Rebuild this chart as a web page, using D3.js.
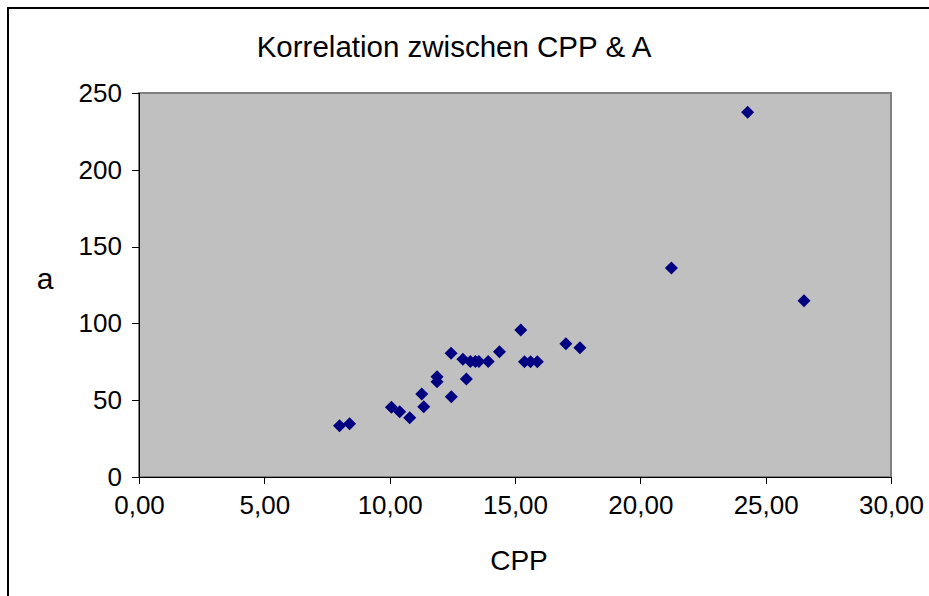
<html>
<head>
<script src="https://d3js.org/d3.v7.min.js"></script>
<style>
body { margin: 0; background: white; }
text { font-family: "Liberation Sans", Arial, sans-serif; fill: #000; }
.axis path, .axis line { stroke: #000; shape-rendering: crispEdges; }
</style>
</head>
<body>
<svg width=929 height=596></svg>
<script>
// CPP (x) and a (y) values
var cpp = [8.00, 8.40, 10.07, 10.40, 10.80, 11.28, 11.36, 11.89, 11.89, 12.46, 12.45,
           12.92, 13.06, 13.22, 13.42, 13.56, 13.93, 14.38, 15.23, 15.38, 15.62, 15.89,
           17.03, 17.59, 21.24, 24.28, 26.53];
var aVals = [33.4, 34.7, 45.4, 42.5, 38.6, 54.0, 45.8, 65.3, 62.0, 52.3, 80.5,
             76.6, 63.8, 75.2, 75.2, 75.2, 75.2, 81.6, 95.7, 75.1, 75.1, 75.1,
             86.8, 84.2, 136.1, 237.4, 114.8];
var xTicks = [0, 5, 10, 15, 20, 25, 30];
var yTicks = [0, 50, 100, 150, 200, 250];

var svg = d3.select('svg');

var plotLeft = 139, plotRight = 891, plotTop = 93, plotBottom = 477;

var xScaler = d3.scaleLinear().domain([0, 30]).range([plotLeft, plotRight]);
var yScaler = d3.scaleLinear().domain([0, 250]).range([plotBottom, plotTop]);

// outer frame
svg.append('path')
   .attr('d', 'M8,600 L8,8 L935,8')
   .attr('fill', 'none')
   .attr('stroke', '#000')
   .attr('stroke-width', 2);

// plot area
svg.append('rect')
   .attr('x', plotLeft).attr('y', plotTop)
   .attr('width', plotRight - plotLeft).attr('height', plotBottom - plotTop)
   .attr('fill', '#c0c0c0')
   .attr('stroke', '#808080')
   .attr('stroke-width', 2);

var commaFmt = function(d) { return d3.format('.2f')(d).replace('.', ','); };

svg.append('g')
   .attr('class', 'axis')
   .attr('transform', 'translate(0,' + plotBottom + ')')
   .call(d3.axisBottom(xScaler).tickValues(xTicks).tickFormat(commaFmt)
           .tickSizeOuter(0).tickSize(7).tickPadding(12))
   .call(function(g) {
     g.selectAll('text').attr('font-size', 26).attr('font-family', null);
   });

svg.append('g')
   .attr('class', 'axis')
   .attr('transform', 'translate(' + plotLeft + ',0)')
   .call(d3.axisLeft(yScaler).tickValues(yTicks)
           .tickSizeOuter(0).tickSize(7).tickPadding(10))
   .call(function(g) {
     g.selectAll('text').attr('font-size', 26).attr('font-family', null);
   });

// points
var diamond = d3.symbol().type(d3.symbolSquare).size(85);
svg.append('g')
   .selectAll('path')
   .data(d3.range(cpp.length))
   .enter()
   .append('path')
   .attr('d', diamond)
   .attr('transform', function(i) {
     return 'translate(' + xScaler(cpp[i]) + ',' + yScaler(aVals[i]) + ') rotate(45)';
   })
   .attr('fill', '#000080');

// titles
svg.append('text')
   .attr('x', 454).attr('y', 57)
   .attr('text-anchor', 'middle')
   .attr('font-size', 29.5)
   .text('Korrelation zwischen CPP & A');

svg.append('text')
   .attr('x', 519).attr('y', 570)
   .attr('text-anchor', 'middle')
   .attr('font-size', 28)
   .text('CPP');

svg.append('text')
   .attr('x', 45).attr('y', 289)
   .attr('text-anchor', 'middle')
   .attr('font-size', 30)
   .text('a');
</script>
</body>
</html>
